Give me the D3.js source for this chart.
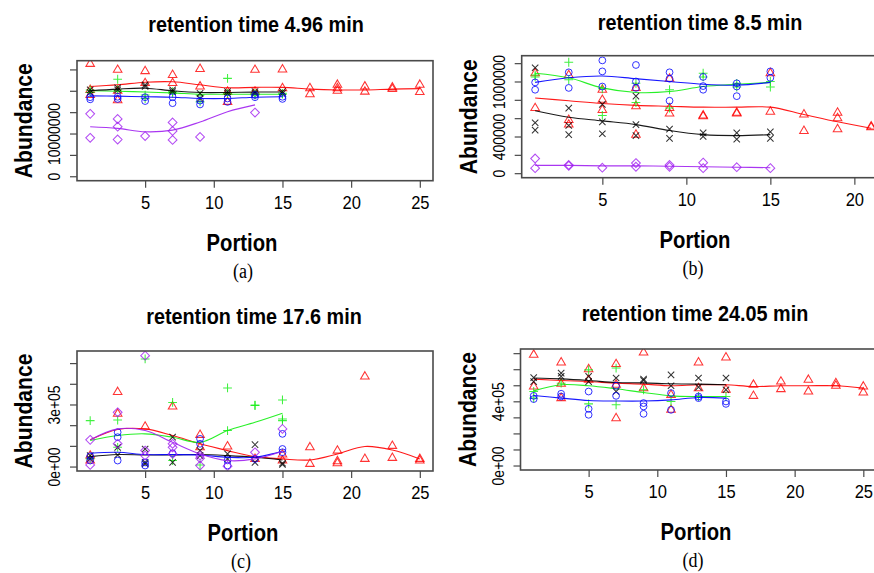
<!DOCTYPE html>
<html><head><meta charset="utf-8">
<script src="https://cdn.jsdelivr.net/npm/d3@7"></script>
<style>body{margin:0;background:#fff}svg{display:block}</style>
</head><body>
<svg id="c" width="874" height="573"></svg>
<script>
// ---------- DATA ----------
const portions25 = [1,3,5,7,9,11,13,15,17,19,21,23,25];
const portions21 = [1,3,5,7,9,11,13,15,17,19,21];
const portions15 = [1,3,5,7,9,11,13,15];
const portions13 = [1,3,5,7,9,11,13];

// panel (a), values in units of 1e6
const aRed = [[26.3,19.0,20.2],[24.9,17.8,20.0],[24.6,21.8],[23.7,21.8],[25.1,21.0],[19.8,17.4],[24.9,19.8],[25.0,20.6],[20.6,19.2],[21.4,20.6,20.0],[21.0,19.8],[20.8,20.4],[21.4,19.7]];
const aRedFit = [21.0,21.4,22.0,22.1,21.4,20.7,20.8,20.8,20.4,20.2,20.2,20.4,20.5];
const aGreen = [[20.2,19.6],[22.7,20.2],[19.0,18.2],[19.4,19.8],[17.4,19.0],[22.9,19.4],[19.0,19.4],[19.4,19.2]];
const aGreenFit = [20.0,19.9,19.7,19.5,19.2,19.2,19.2,19.2];
const aBlack = [[20.2,19.6],[20.7,20.2],[21.4,21.0],[20.2,19.8],[18.2,19.4],[19.8,19.4],[19.8,19.4],[19.8,19.4]];
const aBlackFit = [20.0,20.4,20.6,20.0,19.6,19.6,19.7,19.7];
const aBlue = [[18.5,18.0],[18.6,18.1],[17.6,18.5],[17.1,18.5],[16.8,17.7],[17.4,18.2],[18.5,19.0],[18.1,18.6]];
const aBlueFit = [18.8,18.75,18.6,18.5,18.2,18.2,18.5,18.6];
const aPurple = [[14.6,9.0],[13.4,11.6,8.6],[9.4],[12.6,10.6,8.5],[9.2],[],[14.9]];
const aPurpleFit = [11.6,11.2,10.4,10.8,12.7,15.1,16.7];
const aYTicks = [0,5e6,10e6,15e6,20e6,25e6];
const aYLabels = ["0","","10000000","","",""];

// panel (b), values in units of 1e5
const bRed = [[10.9,7.1],[10.7,5.8,5.3],[9.1,8.0,6.9],[9.3,7.3,4.2],[10.3,7.1,6.5],[6.2,6.3],[6.5,6.6],[10.9,6.7],[6.4,4.6],[6.6,6.0,4.8],[5.0,5.1]];
const bRedFit = [8.2,7.9,7.6,7.4,7.3,7.2,7.2,7.2,6.4,5.6,4.9];
const bGreen = [[10.7,10.5],[12.1,10.2],[9.2,6.3],[9.8,7.7],[9.1,7.1],[10.9,10.5],[9.8,9.4],[10.0,9.4]];
const bGreenFit = [10.9,10.4,9.3,8.8,8.9,9.45,9.7,9.9];
const bBlack = [[11.5,5.5,4.7],[7.1,5.2,4.2],[7.5,5.6,4.3],[8.4,5.3,4.1],[4.8,3.8],[4.4,4.0],[4.4,3.7],[4.5,3.8]];
const bBlackFit = [6.8,6.1,5.7,5.3,4.65,4.2,4.1,4.2];
const bBlue = [[9.9,9.1],[11.0,9.3],[12.3,11.1,9.45],[11.8,10.0,9.3],[11.0,10.3,7.9],[10.5,9.5,9.1],[9.8,9.45,8.4],[11.1,10.4]];
const bBlueFit = [9.9,10.4,10.6,10.3,10.0,9.7,9.6,9.9];
const bPurple = [[1.6,0.55],[0.9,0.8],[0.6],[1.1,0.7],[0.9,0.7],[1.15,0.55],[0.65],[0.55]];
const bPurpleFit = [0.85,0.85,0.8,0.8,0.75,0.7,0.65,0.6];
const bYTicks = [0,2e5,4e5,6e5,8e5,10e5,12e5];
const bYLabels = ["0","","400000","","","1000000",""];

// panel (c), values in units of 1e5
const cRed = [[0.53,0.29],[3.6,2.55],[1.93],[2.9],[1.53,0.93],[0.97],[0.37],[0.58,0.29],[0.93,0.13],[0.77,0.26,0.16],[4.35,0.37],[1.0,0.42],[0.37,0.29]];
const cRedFit = [1.29,1.79,1.82,1.5,1.1,0.77,0.48,0.37,0.32,0.61,0.97,0.8,0.37];
const cGreen = [[2.22,0.37],[2.25,0.93],[5.2],[3.1,0.29],[0.08],[3.8,1.74],[2.95,2.97],[3.22,2.3,2.22]];
const cGreenFit = [1.26,1.5,1.58,1.42,1.17,1.74,2.14,2.58];
const cBlack = [[0.53,0.37],[0.93,0.56],[0.85,0.2,0.13],[1.42,0.2],[0.77,0.53],[0.61,0.37],[1.06,0.2],[0.16,0.1]];
const cBlackFit = [0.48,0.58,0.56,0.56,0.58,0.53,0.45,0.32];
const cBlue = [[0.29,0.5],[1.66,1.42,0.29],[0.2,0.05],[0.64],[1.34,1.1],[0.05,0.3],[0.37],[1.58,0.85,0.69]];
const cBlueFit = [0.64,0.69,0.58,0.58,0.56,0.45,0.45,0.74];
const cPurple = [[1.29,0.08],[2.62,1.1],[5.36,0.77,0.53],[1.1,0.93,0.61],[0.53,0.4,0.05],[0.02],[0.69],[1.82]];
const cPurpleFit = [1.29,1.82,1.74,1.17,0.61,0.29,0.37,0.74];
const cYTicks = [0,1e5,2e5,3e5,4e5,5e5];
const cYLabels = ["0e+00","","","3e+05","",""];

// panel (d), values in units of 1e5
const dRed = [[6.9,4.92],[6.42,5.09,4.2],[6.0,5.34],[6.32,5.03,2.95],[7.04,4.82],[4.4,3.47],[6.42,4.82],[6.73,4.72],[5.03,4.34],[5.23,4.76],[5.34,4.61],[5.13,4.97],[4.92,4.55]];
const dRedFit = [5.38,5.3,5.23,5.13,5.07,4.97,5.03,5.03,4.92,4.97,4.97,4.97,4.82];
const dGreen = [[4.61,4.2],[5.13],[5.96,3.84],[6.07,3.78],[4.72],[3.99],[4.3],[4.3]];
const dGreenFit = [4.65,5.03,4.97,4.78,4.55,4.34,4.3,4.3];
const dBlack = [[5.48,5.23],[5.76,5.55],[5.55,5.23],[5.45,4.61],[5.38,5.3],[5.65,4.97],[5.45,4.88],[5.45,4.72]];
const dBlackFit = [5.45,5.4,5.3,5.17,5.15,5.09,5.07,5.03];
const dBlue = [[4.34,4.14],[4.47,4.3],[4.61,3.53,3.16],[4.97,4.34],[3.89,3.68,3.22],[4.51,3.47],[4.3,4.2],[3.99,3.84]];
const dBlueFit = [4.36,4.2,4.05,4.02,4.02,4.09,4.24,4.2];
const dYTicks = [0,1e5,2e5,3e5,4e5,5e5,6e5,7e5];
const dYLabels = ["0e+00","","","","4e+05","","",""];

const xTicks25 = [5,10,15,20,25];
const xTicks21 = [5,10,15,20];

const titles = ["retention time 4.96 min","retention time 8.5 min","retention time 17.6 min","retention time 24.05 min"];
const captions = ["(a)","(b)","(c)","(d)"];
const xLabel = "Portion", yLabel = "Abundance";

// ---------- LAYOUT / STYLE ----------
const colors = {red:"#ff0000", green:"#11ee11", black:"#000000", blue:"#0000ff", purple:"#a020f0"};
const shapes = {red:"tri", green:"plus", black:"x", blue:"circle", purple:"diamond"};

function ser(color, portions, pts, fit){ return {color, portions, pts, fit}; }

const panels = [
  {box:[77,60.7,433,180.7], xMax:25, yMax:26e6, unit:1e6, xTicks:xTicks25, yTicks:aYTicks, yLabels:aYLabels, tx:256, ty:32, lx:242, cx:243,
   series:[ser("red",portions25,aRed,aRedFit), ser("green",portions15,aGreen,aGreenFit), ser("black",portions15,aBlack,aBlackFit), ser("blue",portions15,aBlue,aBlueFit), ser("purple",portions13,aPurple,aPurpleFit)]},
  {box:[521.7,55.7,884.6,177.7], xMax:21, yMax:1.232e6, unit:1e5, xTicks:xTicks21, yTicks:bYTicks, yLabels:bYLabels, tx:700, ty:30, lx:695, cx:693,
   series:[ser("red",portions21,bRed,bRedFit), ser("green",portions15,bGreen,bGreenFit), ser("black",portions15,bBlack,bBlackFit), ser("blue",portions15,bBlue,bBlueFit), ser("purple",portions15,bPurple,bPurpleFit)]},
  {box:[77,351,433,471], xMax:25, yMax:5.37e5, unit:1e5, xTicks:xTicks25, yTicks:cYTicks, yLabels:cYLabels, tx:254, ty:324, lx:243, cx:241,
   series:[ser("red",portions25,cRed,cRedFit), ser("green",portions15,cGreen,cGreenFit), ser("black",portions15,cBlack,cBlackFit), ser("blue",portions15,cBlue,cBlueFit), ser("purple",portions15,cPurple,cPurpleFit)]},
  {box:[520.5,349,876.5,470], xMax:25, yMax:6.98e5, unit:1e5, xTicks:xTicks25, yTicks:dYTicks, yLabels:dYLabels, tx:695, ty:321, lx:696, cx:693,
   series:[ser("red",portions25,dRed,dRedFit), ser("green",portions15,dGreen,dGreenFit), ser("black",portions15,dBlack,dBlackFit), ser("blue",portions15,dBlue,dBlueFit)]}
];

const svg = d3.select("#c");
const sans = "'Liberation Sans', Arial, Helvetica, sans-serif";
const axisColor = "#4a4a4a";
const condense = 0.87;

function squeeze(sel, f){
  sel.each(function(){
    const n = this.getComputedTextLength();
    if (n > 0) d3.select(this).attr("textLength", n*f).attr("lengthAdjust","spacingAndGlyphs");
  });
}

function symbolPath(shape){
  switch(shape){
    case "tri": return "M0,-4.9L4.3,2.5L-4.3,2.5Z";
    case "plus": return "M-4.4,0H4.4M0,-4.4V4.4";
    case "x": return "M-3.2,-3.2L3.2,3.2M-3.2,3.2L3.2,-3.2";
    case "diamond": return "M0,-4.4L4.4,0L0,4.4L-4.4,0Z";
  }
  return null;
}

panels.forEach((p, i) => {
  const [x0,y0,x1,y1] = p.box;
  const xs = d3.scaleLinear().domain([1 - 0.04*(p.xMax-1), p.xMax + 0.04*(p.xMax-1)]).range([x0,x1]);
  const ys = d3.scaleLinear().domain([-0.04*p.yMax, 1.04*p.yMax]).range([y1,y0]);
  const g = svg.append("g");

  const cid = "clip"+i;
  svg.append("clipPath").attr("id",cid).append("rect").attr("x",x0).attr("y",y0).attr("width",x1-x0).attr("height",y1-y0);
  const plot = g.append("g").attr("clip-path",`url(#${cid})`);

  p.series.forEach(s => {
    const col = colors[s.color], sh = shapes[s.color];
    const pts = [];
    s.pts.forEach((vals, k) => vals.forEach(v => pts.push([s.portions[k], v*p.unit])));
    pts.forEach(([px,py]) => {
      const cx = xs(px), cy = ys(py);
      if (sh === "circle") {
        plot.append("circle").attr("cx",cx).attr("cy",cy).attr("r",3.4)
          .attr("fill","none").attr("stroke",col).attr("stroke-width",1).attr("stroke-opacity",0.8);
      } else {
        plot.append("path").attr("d",symbolPath(sh)).attr("transform",`translate(${cx},${cy})`)
          .attr("fill","none").attr("stroke",col).attr("stroke-width",1.05).attr("stroke-opacity",0.8);
      }
    });
    const line = d3.line().x((d,k)=>xs(s.portions[k])).y(d=>ys(d*p.unit)).curve(d3.curveCatmullRom.alpha(0.5));
    plot.append("path").datum(s.fit).attr("d",line).attr("fill","none").attr("stroke",col).attr("stroke-width",1.1).attr("stroke-opacity",0.9);
  });

  // box
  g.append("rect").attr("x",x0).attr("y",y0).attr("width",x1-x0).attr("height",y1-y0)
    .attr("fill","none").attr("stroke",axisColor).attr("stroke-width",1.6);

  // x axis
  const xa = g.append("g").attr("transform",`translate(0,${y1})`)
    .call(d3.axisBottom(xs).tickValues(p.xTicks).tickSize(7).tickFormat(d3.format("d")));
  xa.select(".domain").remove();
  xa.selectAll("line").attr("stroke",axisColor).attr("stroke-width",1.2);
  xa.selectAll("text").attr("font-family",sans).attr("font-size",19).attr("fill","#000").attr("dy",null).attr("y",28);
  squeeze(xa.selectAll("text"), condense);

  // y axis
  const ya = g.append("g").attr("transform",`translate(${x0},0)`)
    .call(d3.axisLeft(ys).tickValues(p.yTicks).tickSize(7).tickFormat((d,k)=>p.yLabels[k]));
  ya.select(".domain").remove();
  ya.selectAll("line").attr("stroke",axisColor).attr("stroke-width",1.2);
  ya.selectAll("text").attr("font-family",sans).attr("font-size",16).attr("fill","#000")
    .attr("x",null).attr("dy",null).attr("text-anchor","middle")
    .attr("transform","translate(-17,0) rotate(-90)").attr("y",0);
  squeeze(ya.selectAll("text"), condense);

  // texts
  const t = g.append("text").attr("x",p.tx).attr("y",p.ty).attr("text-anchor","middle")
    .attr("font-family",sans).attr("font-weight","bold").attr("font-size",22.5).text(titles[i]);
  squeeze(t, 0.88);
  const xl = g.append("text").attr("x",p.lx).attr("y",y1+70).attr("text-anchor","middle")
    .attr("font-family",sans).attr("font-weight","bold").attr("font-size",23).text(xLabel);
  squeeze(xl, 0.88);
  const yl = g.append("text").attr("transform",`translate(${x0-45},${(y0+y1)/2}) rotate(-90)`).attr("text-anchor","middle")
    .attr("font-family",sans).attr("font-weight","bold").attr("font-size",24).text(yLabel);
  squeeze(yl, 0.88);
  const cap = g.append("text").attr("x",p.cx).attr("y",y1+97).attr("text-anchor","middle")
    .attr("font-family","'Liberation Serif', 'Times New Roman', serif").attr("font-size",20).text(captions[i]);
  squeeze(cap, 0.9);
});
</script>
</body></html>
